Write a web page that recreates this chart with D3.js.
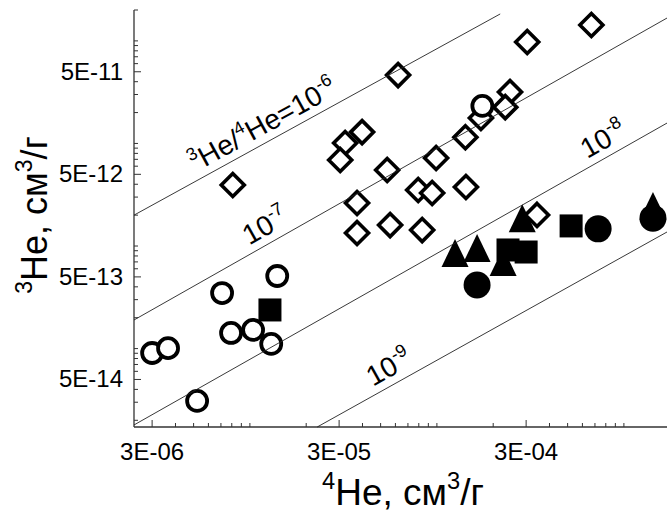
<!DOCTYPE html>
<html>
<head>
<meta charset="utf-8">
<script src="https://cdn.jsdelivr.net/npm/d3@7"></script>
<style>
body { margin: 0; background: #fff; }
text { font-family: "Liberation Sans", Arial, sans-serif; fill: #000; }
</style>
</head>
<body>
<div class="chart"></div>
<script>
var w = 667;
var h = 515;

// open diamonds
var diamondHe4 = [8.1e-6, 6.2e-5, 3.04e-4, 6.7e-4, 3.98e-5, 3.23e-5, 3.04e-5, 5.42e-5, 9.9e-5, 1.42e-4, 1.72e-4,
    2.46e-4, 2.32e-4, 3.74e-5, 3.74e-5, 5.62e-5, 7.94e-5, 9.43e-5, 8.34e-5, 1.43e-4, 3.43e-4];
var diamondHe3 = [3.93e-12, 4.64e-11, 9.74e-11, 1.43e-10, 1.29e-11, 1.01e-11, 6.89e-12, 5.51e-12, 7.21e-12, 1.15e-11, 1.77e-11,
    3.17e-11, 2.26e-11, 2.63e-12, 1.34e-12, 1.60e-12, 3.52e-12, 3.29e-12, 1.43e-12, 3.76e-12, 2.01e-12];

// open circles
var ringHe4 = [1.75e-4, 3.0e-6, 3.65e-6, 7.1e-6, 7.93e-6, 1.04e-5, 1.30e-5, 1.40e-5, 5.22e-6];
var ringHe3 = [2.32e-11, 9.06e-14, 1.01e-13, 3.48e-13, 1.42e-13, 1.52e-13, 1.11e-13, 5.10e-13, 3.09e-14];

// filled squares
var squareHe4 = [1.28e-5, 2.40e-4, 3.0e-4, 5.22e-4];
var squareHe3 = [2.38e-13, 9.15e-13, 8.74e-13, 1.57e-12];

// filled circles
var dotHe4 = [1.64e-4, 7.28e-4, 1.43e-3];
var dotHe3 = [4.17e-13, 1.47e-12, 1.87e-12];

// filled triangles
var triHe4 = [1.25e-4, 1.64e-4, 2.26e-4, 2.86e-4, 1.43e-3];
var triHe3 = [8.55e-13, 9.56e-13, 6.99e-13, 1.87e-12, 2.45e-12];

// 3He/4He reference lines (end points as drawn)
var ratioExp = ["-6", "-7", "-8", "-9"];
var lineHe4a = [2.4e-6, 2.4e-6, 2.4e-6, 2.29e-5];
var lineHe3a = [2.0e-12, 1.9e-13, 1.8e-14, 1.72e-14];
var lineHe4b = [2.18e-4, 1.7e-3, 1.7e-3, 1.7e-3];
var lineHe3b = [1.83e-10, 1.67e-10, 1.58e-11, 1.37e-12];
var labelHe4 = [5.4e-6, 1.04e-5, 6.68e-4, 4.77e-5];

// axis ticks
var xTicks = [3e-6, 3e-5, 3e-4];
var xTickLabels = ["3E-06", "3E-05", "3E-04"];
var yTicks = [5e-14, 5e-13, 5e-12, 5e-11];
var yTickLabels = ["5E-14", "5E-13", "5E-12", "5E-11"];

var pLeft = 134, pRight = 667, pTop = 10, pBottom = 427;

var x = d3.scaleLog().domain([2.4e-6, 1.7e-3]).range([pLeft, pRight]);
var y = d3.scaleLog().domain([1.72e-14, 2.0e-10]).range([pBottom, pTop]);

var svg = d3.select(".chart")
    .append("svg")
    .attr("width", w)
    .attr("height", h);

function rich(t, parts, size) {
    var prev = 0;
    parts.forEach(function(p) {
        var up = p[1] ? -0.42 * size : 0;
        t.append("tspan")
            .attr("dy", up - prev)
            .style("font-size", (p[1] ? size * 0.64 : size) + "px")
            .text(p[0]);
        prev = up;
    });
}

// axes
var minor = x.ticks().filter(function(d) { return xTicks.indexOf(d) < 0; });
svg.append("g").selectAll("line")
    .data(minor)
    .enter()
    .append("line")
    .attr("x1", function(d) { return x(d); })
    .attr("x2", function(d) { return x(d); })
    .attr("y1", pBottom)
    .attr("y2", pBottom - 4)
    .attr("stroke", "#333");

svg.append("g").selectAll("line")
    .data(xTicks)
    .enter()
    .append("line")
    .attr("x1", function(d) { return x(d); })
    .attr("x2", function(d) { return x(d); })
    .attr("y1", pBottom)
    .attr("y2", pBottom - 7)
    .attr("stroke", "#333");

svg.append("g").selectAll("text")
    .data(xTicks)
    .enter()
    .append("text")
    .attr("x", function(d) { return x(d); })
    .attr("y", pBottom + 33)
    .attr("text-anchor", "middle")
    .style("font-size", "24px")
    .text(function(d, i) { return xTickLabels[i]; });

var yMinor = y.ticks().filter(function(d) { return yTicks.indexOf(d) < 0; });
svg.append("g").selectAll("line")
    .data(yMinor)
    .enter()
    .append("line")
    .attr("x1", pLeft)
    .attr("x2", pLeft + 4)
    .attr("y1", function(d) { return y(d); })
    .attr("y2", function(d) { return y(d); })
    .attr("stroke", "#333");

svg.append("g").selectAll("line")
    .data(yTicks)
    .enter()
    .append("line")
    .attr("x1", pLeft)
    .attr("x2", pLeft + 7)
    .attr("y1", function(d) { return y(d); })
    .attr("y2", function(d) { return y(d); })
    .attr("stroke", "#333");

svg.append("g").selectAll("text")
    .data(yTicks)
    .enter()
    .append("text")
    .attr("x", pLeft - 11)
    .attr("y", function(d) { return y(d) + 8; })
    .attr("text-anchor", "end")
    .style("font-size", "24px")
    .text(function(d, i) { return yTickLabels[i]; });

svg.append("line")
    .attr("x1", pLeft).attr("x2", pRight)
    .attr("y1", pBottom).attr("y2", pBottom)
    .attr("stroke", "#333").attr("stroke-width", 1.3);
svg.append("line")
    .attr("x1", pLeft).attr("x2", pLeft)
    .attr("y1", pTop).attr("y2", pBottom)
    .attr("stroke", "#333").attr("stroke-width", 1.3);

// axis titles
var xt = svg.append("text")
    .attr("x", 403)
    .attr("y", 505)
    .attr("text-anchor", "middle");
rich(xt, [["4", 1], ["He, см", 0], ["3", 1], ["/г", 0]], 37);

var yt = svg.append("text")
    .attr("transform", "translate(47,215) rotate(-90)")
    .attr("text-anchor", "middle");
rich(yt, [["3", 1], ["He, см", 0], ["3", 1], ["/г", 0]], 36);

// markers
function pts(a, b) {
    return a.map(function(d, i) { return [x(d), y(b[i])]; });
}

svg.append("g").selectAll("path")
    .data(pts(triHe4, triHe3))
    .enter()
    .append("path")
    .attr("d", "M0,-14L13.5,14L-13.5,14Z")
    .attr("transform", function(d) { return "translate(" + d[0] + "," + d[1] + ")"; })
    .attr("fill", "#000");

svg.append("g").selectAll("rect")
    .data(pts(squareHe4, squareHe3))
    .enter()
    .append("rect")
    .attr("x", function(d) { return d[0] - 11.5; })
    .attr("y", function(d) { return d[1] - 11.5; })
    .attr("width", 23)
    .attr("height", 23)
    .attr("fill", "#000");

svg.append("g").selectAll("circle")
    .data(pts(dotHe4, dotHe3))
    .enter()
    .append("circle")
    .attr("cx", function(d) { return d[0]; })
    .attr("cy", function(d) { return d[1]; })
    .attr("r", 13.5)
    .attr("fill", "#000");

svg.append("g").selectAll("path")
    .data(pts(diamondHe4, diamondHe3))
    .enter()
    .append("path")
    .attr("d", "M0,-11.5L11.5,0L0,11.5L-11.5,0Z")
    .attr("transform", function(d) { return "translate(" + d[0] + "," + d[1] + ")"; })
    .attr("fill", "#fff")
    .attr("stroke", "#000")
    .attr("stroke-width", 3.6);

svg.append("g").selectAll("circle")
    .data(pts(ringHe4, ringHe3))
    .enter()
    .append("circle")
    .attr("cx", function(d) { return d[0]; })
    .attr("cy", function(d) { return d[1]; })
    .attr("r", 10)
    .attr("fill", "#fff")
    .attr("stroke", "#000")
    .attr("stroke-width", 3.8);

// ratio lines and their labels
var lines = svg.append("g");
ratioExp.forEach(function(e, i) {
    var x1 = x(lineHe4a[i]), y1 = y(lineHe3a[i]);
    var x2 = x(lineHe4b[i]), y2 = y(lineHe3b[i]);
    lines.append("line")
        .attr("x1", x1).attr("y1", y1)
        .attr("x2", x2).attr("y2", y2)
        .attr("stroke", "#222")
        .attr("stroke-width", 0.9);

    var ang = Math.atan2(y2 - y1, x2 - x1) * 180 / Math.PI;
    var t = (Math.log(labelHe4[i]) - Math.log(lineHe4a[i])) / (Math.log(lineHe4b[i]) - Math.log(lineHe4a[i]));
    var he3 = Math.exp(Math.log(lineHe3a[i]) + t * (Math.log(lineHe3b[i]) - Math.log(lineHe3a[i])));
    var lab = lines.append("text")
        .attr("transform", "translate(" + x(labelHe4[i]) + "," + y(he3) + ") rotate(" + ang + ") translate(0,-8)");
    var parts = i === 0 ? [["3", 1], ["He/", 0], ["4", 1], ["He=10", 0], [e, 1]] : [["10", 0], [e, 1]];
    rich(lab, parts, 28);
});
</script>
</body>
</html>
